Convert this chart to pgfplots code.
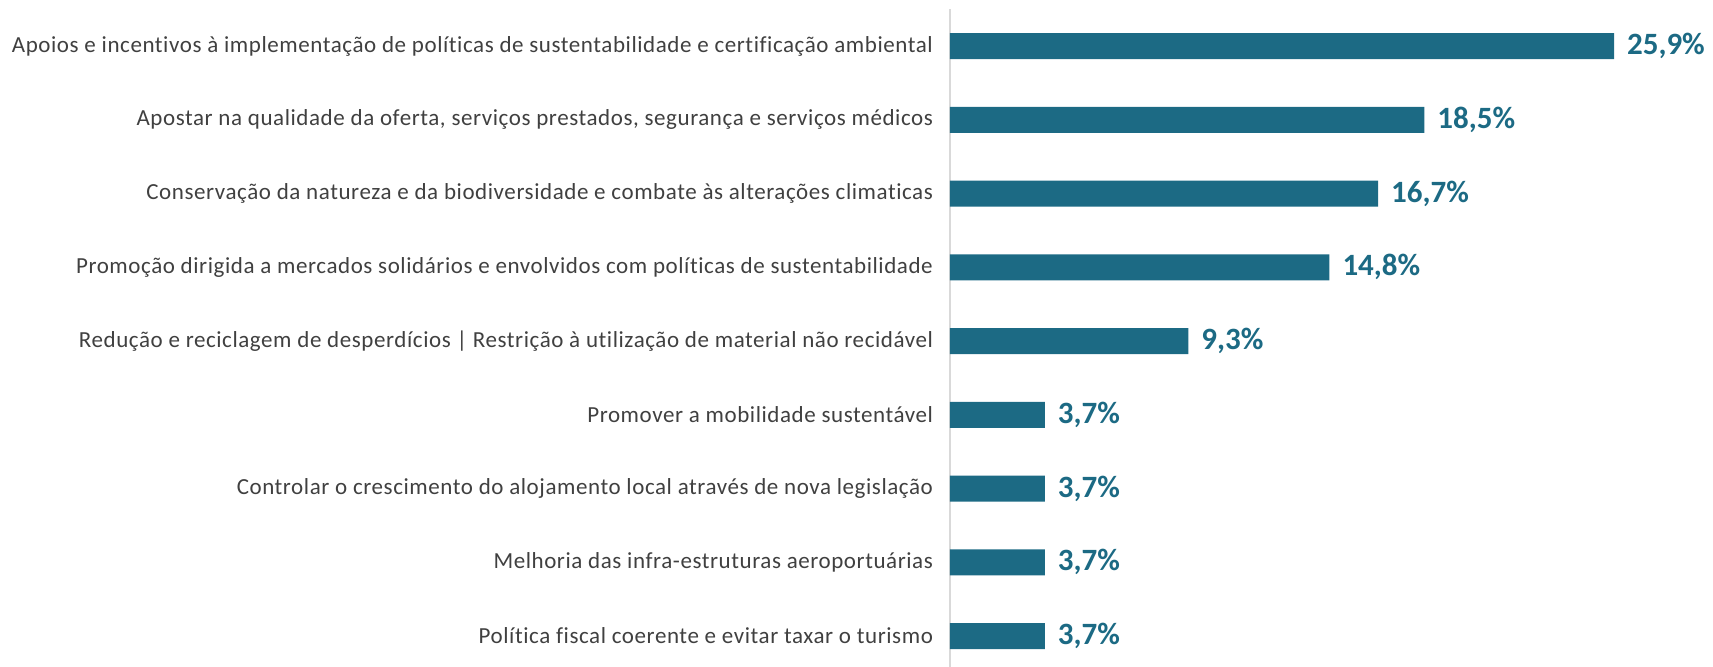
\documentclass[border=0pt]{standalone}
\usepackage{fontspec}
\setmainfont{Carlito}
\newfontfamily\labelfont[LetterSpace=2.5,Ligatures=NoCommon]{Carlito}
\usepackage{pgfplots}
\pgfplotsset{compat=1.18}
\definecolor{barteal}{HTML}{1C6A84}
\definecolor{labelgray}{HTML}{404040}
\definecolor{axisgray}{HTML}{D9D9D9}

\begin{document}
\begin{tikzpicture}
\begin{axis}[
  name=ax,
  xbar, bar width=13pt,
  width=381.5pt, height=329pt, scale only axis,
  xmin=0, xmax=29.76,
  ymin=-0.502, ymax=8.42, y dir=reverse,
  axis x line=none,
  axis y line*=left,
  y axis line style={draw=axisgray, line width=0.8pt},
  ytick={0,...,8}, major tick length=0pt,
  yticklabels={
    {Apoios e incentivos à implementação de políticas de sustentabilidade e certificação ambiental},
    {Apostar na qualidade da oferta, serviços prestados, segurança e serviços médicos},
    {Conservação da natureza e da biodiversidade e combate às alterações climaticas},
    {Promoção dirigida a mercados solidários e envolvidos com políticas de sustentabilidade},
    {Redução e reciclagem de desperdícios | Restrição à utilização de material não recidável},
    {Promover a mobilidade sustentável},
    {Controlar o crescimento do alojamento local através de nova legislação},
    {Melhoria das infra-estruturas aeroportuárias},
    {Política fiscal coerente e evitar taxar o turismo}},
  yticklabel style={font=\labelfont\fontsize{11.5}{13}\selectfont, text=labelgray, xshift=-5pt},
  point meta=x,
  nodes near coords={\pgfmathprintnumber[fixed,fixed zerofill,precision=1,use comma,assume math mode=true]{\pgfplotspointmeta}\%},
  nodes near coords style={font=\fontsize{15.5}{17}\selectfont\bfseries, text=barteal, anchor=west, xshift=3pt},
  clip=false,
]
\addplot[fill=barteal, draw=none] coordinates {
  (25.9,0) (18.5,1) (16.7,2) (14.8,3) (9.3,4) (3.7,5) (3.7,6) (3.7,7) (3.7,8)};
\end{axis}
\pgfresetboundingbox
\useasboundingbox ([xshift=-475pt]ax.south west) rectangle ([yshift=4.5pt]ax.north east);
\end{tikzpicture}
\end{document}
